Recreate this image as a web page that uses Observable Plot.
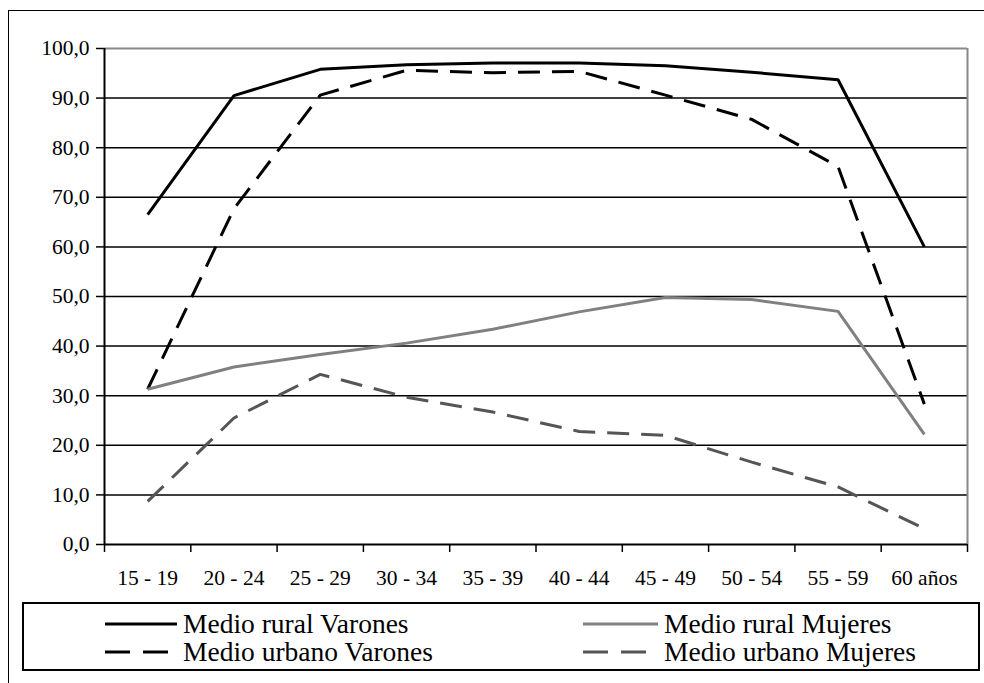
<!DOCTYPE html>
<html><head><meta charset="utf-8">
<script src="https://cdn.jsdelivr.net/npm/d3@7"></script>
<script src="https://cdn.jsdelivr.net/npm/@observablehq/plot@0.6"></script>
<style>
html,body{margin:0;padding:0;background:#fff;overflow:hidden;width:984px;height:683px;}
#frame{position:absolute;left:8px;top:10px;width:1100px;height:800px;border:1.5px solid #000;box-sizing:border-box;}
#chart{position:absolute;left:0;top:0;}
#legend{position:absolute;left:22px;top:602px;width:958px;height:69px;border:2px solid #000;box-sizing:border-box;font-family:"Liberation Serif","Times New Roman",Times,"DejaVu Serif",serif;font-size:27.5px;color:#000;background:#fff;}
.item{position:absolute;height:34px;display:flex;align-items:center;white-space:nowrap;}
.item svg{display:block;}
</style></head><body>
<div id="frame"></div>
<div id="chart"></div>
<div id="legend"></div>
<script>
const categories = ["15 - 19","20 - 24","25 - 29","30 - 34","35 - 39","40 - 44","45 - 49","50 - 54","55 - 59","60 años"];
const ruralVarones  = [66.5, 90.5, 95.8, 96.7, 97.1, 97.1, 96.5, 95.2, 93.7, 60.0];
const ruralMujeres  = [31.3, 35.8, 38.3, 40.6, 43.4, 46.9, 49.8, 49.4, 47.0, 22.2];
const urbanoVarones = [31.3, 67.7, 90.6, 95.6, 95.1, 95.4, 90.6, 85.7, 76.2, 28.3];
const urbanoMujeres = [8.7, 25.5, 34.3, 29.7, 26.7, 22.8, 22.0, 16.6, 11.6, 3.2];
const seriesNames = ["Medio rural Varones","Medio rural Mujeres","Medio urbano Varones","Medio urbano Mujeres"];
const yTicks = [0,10,20,30,40,50,60,70,80,90,100];

const styles = [
  {stroke:"#000000", strokeWidth:3, strokeDasharray:null},
  {stroke:"#808080", strokeWidth:3, strokeDasharray:null},
  {stroke:"#000000", strokeWidth:3, strokeDasharray:"22,12"},
  {stroke:"#555555", strokeWidth:3, strokeDasharray:"22,12"}
];
const seriesValues = [ruralVarones, ruralMujeres, urbanoVarones, urbanoMujeres];
const seriesData = seriesValues.map((vals, s) => vals.map((v, i) => ({x: i + 0.5, y: v, name: seriesNames[s]})));
const boundaries = categories.map((_, i) => i).concat([categories.length]);
const centers = categories.map((_, i) => i + 0.5);

const fmt = d => d.toFixed(1).replace(".", ",");

const lineMarks = [2, 0, 3, 1].map(s => Plot.line(seriesData[s], {
  x: "x", y: "y",
  stroke: styles[s].stroke,
  strokeWidth: styles[s].strokeWidth,
  strokeDasharray: styles[s].strokeDasharray,
  strokeLinejoin: "miter",
  strokeLinecap: "butt"
}));

const chart = Plot.plot({
  width: 984,
  height: 600,
  marginLeft: 104,
  marginRight: 17,
  marginTop: 48,
  marginBottom: 56,
  style: {fontFamily: "'Liberation Serif', 'Times New Roman', Times, 'DejaVu Serif', serif", fontSize: "21.5px", color: "#000", background: "transparent", overflow: "visible"},
  x: {type: "linear", domain: [0, categories.length]},
  y: {type: "linear", domain: [0, 100]},
  marks: [
    Plot.ruleY(yTicks.filter(v => v > 0 && v < 100), {stroke: "#000", strokeWidth: 1.5}),
    Plot.ruleY([100], {stroke: "#888", strokeWidth: 2}),
    Plot.ruleX([categories.length], {stroke: "#888", strokeWidth: 2}),
    Plot.ruleX([0], {stroke: "#000", strokeWidth: 2}),
    Plot.ruleY([0], {stroke: "#000", strokeWidth: 2}),
    Plot.axisY(yTicks, {tickSize: 8, tickPadding: 7, tickFormat: fmt, strokeWidth: 1.5, fontSize: 21.5, label: null}),
    Plot.axisX(boundaries, {tickSize: 8, strokeWidth: 1.5, fill: "none", tickFormat: () => "", label: null}),
    Plot.axisX(centers, {tickSize: 0, tickPadding: 25.5, tickFormat: d => categories[Math.round(d - 0.5)], fontSize: 21.5, label: null}),
    ...lineMarks
  ]
});
document.getElementById("chart").appendChild(chart);

// Legend
const legend = document.getElementById("legend");
const layout = [
  {s: 0, left: 81, top: 3, w: 72},
  {s: 1, left: 559, top: 3, w: 75},
  {s: 2, left: 81, top: 31, w: 72},
  {s: 3, left: 559, top: 31, w: 75}
];
layout.forEach(({s, left, top, w}) => {
  const item = document.createElement("div");
  item.className = "item";
  item.style.left = left + "px";
  item.style.top = top + "px";
  const st = styles[s];
  item.innerHTML = `<svg width="${w}" height="34"><line x1="0" x2="${w}" y1="17" y2="17" stroke="${st.stroke}" stroke-width="${st.strokeWidth}" ${st.strokeDasharray ? `stroke-dasharray="25,13"` : ""}/></svg><span style="margin-left:6px">${seriesNames[s]}</span>`;
  legend.appendChild(item);
});
</script>
</body></html>
